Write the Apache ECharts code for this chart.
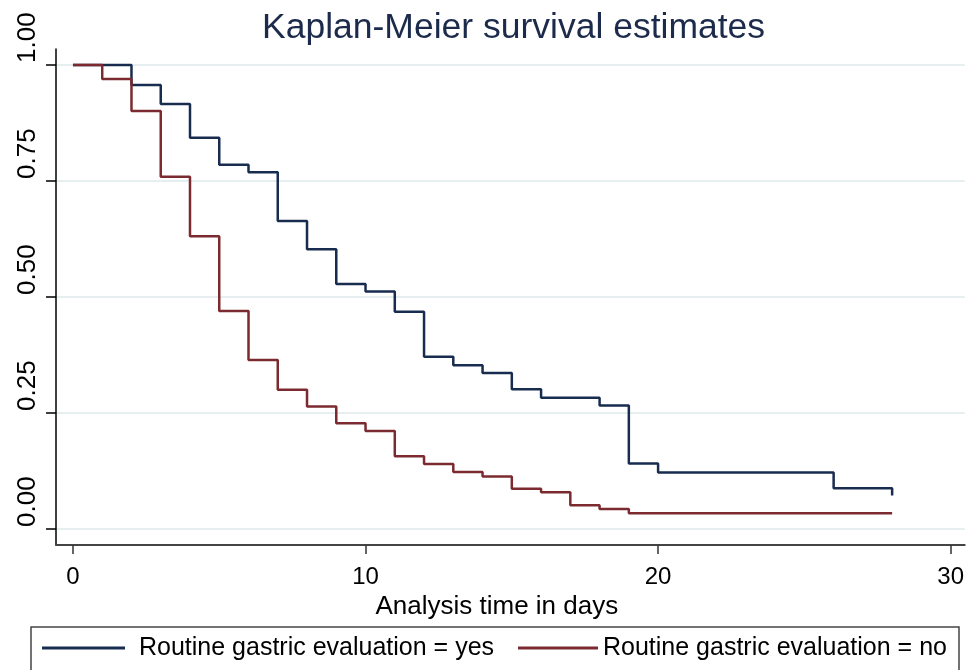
<!DOCTYPE html>
<html>
<head>
<meta charset="utf-8">
<title>Kaplan-Meier survival estimates</title>
<script src="https://cdn.jsdelivr.net/npm/echarts@6/dist/echarts.min.js"></script>
<style>
  html, body { margin: 0; padding: 0; background: #fff; }
  #chart { width: 967px; height: 670px; }
</style>
</head>
<body>
<div id="chart"></div>
<script>
// survival estimates
const yesDays = [0, 2, 3, 4, 5, 6, 7, 8, 9, 10, 11, 12, 13, 14, 15, 16, 18, 19, 20, 26, 28];
const yesSurv = [1, 0.957, 0.916, 0.843, 0.785, 0.769, 0.664, 0.603, 0.528, 0.512, 0.468,
  0.371, 0.353, 0.336, 0.301, 0.283, 0.266, 0.141, 0.122, 0.088, 0.072];
const noDays = [0, 1, 2, 3, 4, 5, 6, 7, 8, 9, 10, 11, 12, 13, 14, 15, 16, 17, 18, 19, 28];
const noSurv = [1, 0.970, 0.901, 0.759, 0.631, 0.470, 0.364, 0.300, 0.264, 0.228, 0.211,
  0.157, 0.140, 0.123, 0.113, 0.087, 0.079, 0.051, 0.043, 0.034, 0.034];
const xTicks = [0, 10, 20, 30];
const yTicks = [0, 0.25, 0.5, 0.75, 1];
const yesName = "Routine gastric evaluation = yes";
const noName = "Routine gastric evaluation = no";

const font = '"Liberation Sans", Arial, sans-serif';
const navy = "#182c4f";
const maroon = "#7b2b30";

const chart = echarts.init(document.getElementById("chart"));

chart.setOption({
  animation: false,
  backgroundColor: "#fff",
  textStyle: { fontFamily: font },
  title: {
    text: "Kaplan-Meier survival estimates",
    left: 262,
    top: 10,
    padding: 0,
    textStyle: { fontFamily: font, fontSize: 35.5, fontWeight: "normal", color: "#1c2b4b" },
  },
  grid: { left: 56, top: 49, right: 0, bottom: 125, containLabel: false },
  // 图例外框
  graphic: [
    {
      type: "rect",
      shape: { x: 31, y: 627, width: 928, height: 70 },
      style: { fill: "none", stroke: "#444", lineWidth: 1.5 },
      silent: true,
    },
  ],
  legend: [
    {
      left: 42,
      top: 633,
      padding: 0,
      icon: "rect",
      itemWidth: 83,
      itemHeight: 3,
      data: [yesName],
      textStyle: { fontFamily: font, fontSize: 25, color: "#000", lineHeight: 30, padding: [0, 0, 0, 9] },
    },
    {
      left: 518,
      top: 633,
      padding: 0,
      icon: "rect",
      itemWidth: 80,
      itemHeight: 3,
      data: [noName],
      textStyle: { fontFamily: font, fontSize: 25, color: "#000", lineHeight: 30, padding: 0 },
    },
  ],
  xAxis: {
    type: "value",
    min: -0.58,
    max: 30.48,
    name: "Analysis time in days",
    nameLocation: "middle",
    nameGap: 25,
    nameTextStyle: { fontFamily: font, fontSize: 26, color: "#000", padding: [0, 27, 0, 0] },
    axisLine: { show: true, onZero: false, lineStyle: { color: "#444", width: 2 } },
    axisTick: { show: true, customValues: xTicks, length: 9, lineStyle: { color: "#333", width: 1.5 } },
    axisLabel: { customValues: xTicks, margin: 20, fontSize: 24, color: "#000", fontFamily: font },
    splitLine: { show: false },
  },
  yAxis: {
    type: "value",
    min: -0.0345,
    max: 1.0345,
    axisLine: { show: true, onZero: false, lineStyle: { color: "#000", width: 1.5 } },
    axisTick: { show: true, customValues: yTicks, length: 10, lineStyle: { color: "#000", width: 1.5 } },
    axisLabel: {
      customValues: yTicks,
      rotate: 90,
      align: "left",
      verticalAlign: "bottom",
      margin: 15,
      padding: [0, 0, 0, 2],
      fontSize: 26,
      color: "#000",
      fontFamily: font,
      formatter: (v) => v.toFixed(2),
    },
    splitLine: { show: true, lineStyle: { color: "#e6eef0", width: 2 } },
  },
  series: [
    {
      name: yesName,
      type: "line",
      step: "end",
      showSymbol: false,
      symbol: "none",
      color: navy,
      lineStyle: { color: navy, width: 2.5 },
      data: yesDays.map((d, i) => [d, yesSurv[i]]),
    },
    {
      name: noName,
      type: "line",
      step: "end",
      showSymbol: false,
      symbol: "none",
      color: maroon,
      lineStyle: { color: maroon, width: 2.5 },
      data: noDays.map((d, i) => [d, noSurv[i]]),
    },
  ],
});
</script>
</body>
</html>
